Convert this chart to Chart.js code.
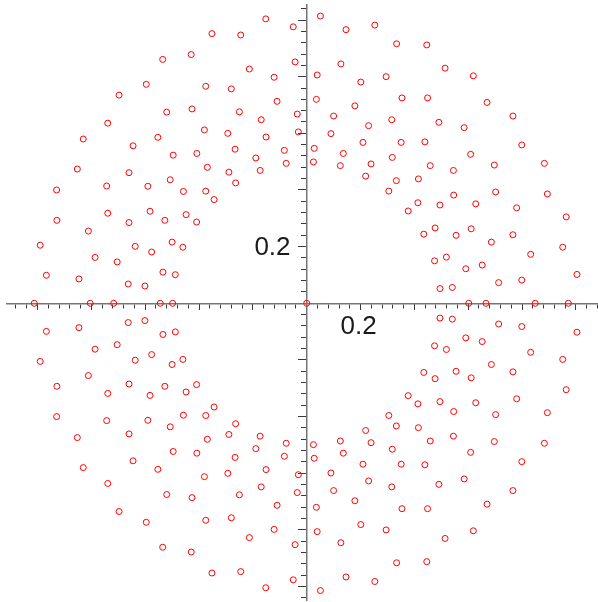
<!DOCTYPE html>
<html>
<head>
<meta charset="utf-8">
<script src="https://cdn.jsdelivr.net/npm/chart.js@4.4.1/dist/chart.umd.min.js"></script>
<style>
  html, body { margin: 0; padding: 0; background: #fff; }
  #wrap { width: 598px; height: 602px; }
</style>
</head>
<body>
<div id="wrap"><canvas id="plot"></canvas></div>
<script>
// points, [x, y]
const leftUpper = [
  [-0.535, 0.861], [-0.429, 0.878], [-0.596, 0.773], [-0.697, 0.735], [-0.520, 0.675],
  [-0.426, 0.686], [-0.739, 0.636], [-0.830, 0.580], [-0.645, 0.556], [-0.553, 0.586],
  [-0.496, 0.523], [-0.408, 0.529], [-0.852, 0.474], [-0.660, 0.461], [-0.507, 0.436],
  [-0.743, 0.414], [-0.590, 0.413], [-0.929, 0.400], [-0.458, 0.395], [-0.928, 0.293],
  [-0.739, 0.318], [-0.582, 0.325], [-0.660, 0.285], [-0.527, 0.293], [-0.448, 0.313],
  [-0.409, 0.287], [-0.811, 0.255], [-0.990, 0.205], [-0.637, 0.201], [-0.576, 0.181],
  [-0.500, 0.216], [-0.460, 0.198], [-0.786, 0.162], [-0.704, 0.146], [-0.967, 0.099],
  [-0.846, 0.086], [-0.663, 0.068], [-0.601, 0.061], [-0.534, 0.110], [-0.488, 0.101]
]
const leftLower = [
  [-0.535, -0.861], [-0.429, -0.878], [-0.596, -0.773], [-0.697, -0.735], [-0.520, -0.675],
  [-0.426, -0.686], [-0.739, -0.636], [-0.830, -0.580], [-0.645, -0.556], [-0.553, -0.586],
  [-0.496, -0.523], [-0.408, -0.529], [-0.852, -0.474], [-0.660, -0.461], [-0.507, -0.436],
  [-0.743, -0.414], [-0.590, -0.413], [-0.929, -0.400], [-0.458, -0.395], [-0.928, -0.293],
  [-0.739, -0.318], [-0.582, -0.325], [-0.660, -0.285], [-0.527, -0.293], [-0.448, -0.313],
  [-0.409, -0.287], [-0.811, -0.255], [-0.990, -0.205], [-0.637, -0.201], [-0.576, -0.181],
  [-0.500, -0.216], [-0.460, -0.198], [-0.786, -0.162], [-0.704, -0.146], [-0.967, -0.099],
  [-0.846, -0.086], [-0.663, -0.068], [-0.601, -0.061], [-0.534, -0.110], [-0.488, -0.101]
]
const midUpper = [
  [-0.152, 1.004], [-0.050, 0.976], [0.051, 1.014], [-0.352, 0.952], [-0.245, 0.947],
  [0.146, 0.966], [0.253, 0.982], [0.334, 0.916], [-0.043, 0.852], [-0.213, 0.827],
  [0.127, 0.845], [-0.121, 0.798], [0.039, 0.806], [-0.375, 0.766], [-0.280, 0.757],
  [0.201, 0.781], [0.295, 0.800], [-0.110, 0.713], [0.036, 0.720], [0.179, 0.697],
  [-0.250, 0.676], [-0.169, 0.648], [-0.035, 0.668], [0.100, 0.661], [0.316, 0.648],
  [0.230, 0.627], [-0.380, 0.612], [-0.293, 0.600], [-0.151, 0.587], [-0.031, 0.605],
  [0.090, 0.599], [0.209, 0.568], [-0.266, 0.544], [-0.083, 0.540], [0.028, 0.547],
  [0.136, 0.529], [-0.189, 0.513], [0.025, 0.499], [0.125, 0.486], [0.239, 0.492],
  [0.318, 0.515], [-0.369, 0.480], [-0.289, 0.463], [-0.173, 0.469], [-0.076, 0.494],
  [0.219, 0.449], [0.333, 0.433], [-0.264, 0.425], [-0.375, 0.396], [0.305, 0.396],
  [-0.344, 0.366]
]
const midLower = [
  [-0.152, -1.004], [-0.050, -0.976], [0.051, -1.014], [-0.352, -0.952], [-0.245, -0.947],
  [0.146, -0.966], [0.253, -0.982], [0.334, -0.916], [-0.043, -0.852], [-0.213, -0.827],
  [0.127, -0.845], [-0.121, -0.798], [0.039, -0.806], [-0.375, -0.766], [-0.280, -0.757],
  [0.201, -0.781], [0.295, -0.800], [-0.110, -0.713], [0.036, -0.720], [0.179, -0.697],
  [-0.250, -0.676], [-0.169, -0.648], [-0.035, -0.668], [0.100, -0.661], [0.316, -0.648],
  [0.230, -0.627], [-0.380, -0.612], [-0.293, -0.600], [-0.151, -0.587], [-0.031, -0.605],
  [0.090, -0.599], [0.209, -0.568], [-0.266, -0.544], [-0.083, -0.540], [0.028, -0.547],
  [0.136, -0.529], [-0.189, -0.513], [0.025, -0.499], [0.125, -0.486], [0.239, -0.492],
  [0.318, -0.515], [-0.369, -0.480], [-0.289, -0.463], [-0.173, -0.469], [-0.076, -0.494],
  [0.219, -0.449], [0.333, -0.433], [-0.264, -0.425], [-0.375, -0.396], [0.305, -0.396],
  [-0.344, -0.366]
]
const rightUpper = [
  [0.446, 0.912], [0.514, 0.830], [0.619, 0.803], [0.354, 0.725], [0.449, 0.725],
  [0.670, 0.709], [0.766, 0.661], [0.491, 0.639], [0.585, 0.620], [0.351, 0.568],
  [0.439, 0.570], [0.799, 0.559], [0.609, 0.526], [0.459, 0.486], [0.545, 0.469],
  [0.697, 0.488], [0.883, 0.494], [0.415, 0.439], [0.546, 0.382], [0.702, 0.393],
  [0.894, 0.386], [0.377, 0.326], [0.413, 0.355], [0.495, 0.347], [0.628, 0.351],
  [0.780, 0.337], [0.964, 0.305], [0.477, 0.266], [0.435, 0.244], [0.555, 0.240],
  [0.611, 0.263], [0.766, 0.242], [0.686, 0.216], [0.951, 0.198], [0.832, 0.173],
  [0.475, 0.150], [0.519, 0.163], [0.591, 0.122], [0.652, 0.135], [1.004, 0.102],
  [0.713, 0.073], [0.799, 0.082], [0.495, 0.052], [0.541, 0.056]
]
const rightLower = [
  [0.446, -0.912], [0.514, -0.830], [0.619, -0.803], [0.354, -0.725], [0.449, -0.725],
  [0.670, -0.709], [0.766, -0.661], [0.491, -0.639], [0.585, -0.620], [0.351, -0.568],
  [0.439, -0.570], [0.799, -0.559], [0.609, -0.526], [0.459, -0.486], [0.545, -0.469],
  [0.697, -0.488], [0.883, -0.494], [0.415, -0.439], [0.546, -0.382], [0.702, -0.393],
  [0.894, -0.386], [0.377, -0.326], [0.413, -0.355], [0.495, -0.347], [0.628, -0.351],
  [0.780, -0.337], [0.964, -0.305], [0.477, -0.266], [0.435, -0.244], [0.555, -0.240],
  [0.611, -0.263], [0.766, -0.242], [0.686, -0.216], [0.951, -0.198], [0.832, -0.173],
  [0.475, -0.150], [0.519, -0.163], [0.591, -0.122], [0.652, -0.135], [1.004, -0.102],
  [0.713, -0.073], [0.799, -0.082], [0.495, -0.052], [0.541, -0.056]
]
const onAxis = [
  [-1.012, 0], [-0.804, 0], [-0.717, 0], [-0.544, 0], [-0.498, 0],
  [0, 0], [0.602, 0], [0.666, 0], [0.849, 0], [0.972, 0]
]

// axes
const xRange = [-1.1133, 1.0821]
const yRange = [-1.0473, 1.0530]
const majorTicks = [-1, -0.8, -0.6, -0.4, -0.2, 0.2, 0.4, 0.6, 0.8, 1]
const labelledTicks = [0.2]
const tickLabels = ['0.2']
const minorStep = 0.04

const allPoints = [].concat(leftUpper, leftLower, midUpper, midLower, rightUpper, rightLower, onAxis)
  .map(([x, y]) => ({ x, y }))

const minorTicks = (lo, hi) => {
  const out = []
  for (let k = Math.ceil(lo / minorStep); k <= Math.floor(hi / minorStep); k++) {
    if (k !== 0) out.push({ value: k * minorStep })
  }
  return out
}

const labelFor = (value) => {
  const i = labelledTicks.findIndex((t) => Math.abs(t - value) < 1e-9)
  return i >= 0 ? tickLabels[i] : ''
}

const axisColor = '#767676'
const tickColor = '#3a3a3a'
const labelFont = { family: 'Liberation Sans, Arial, sans-serif', size: 26 }

// axes sit on the other axis's zero, so they must not take any layout room
const noRoom = (flat) => (s) => {
  if (flat) s.height = 0
  else s.width = 0
  s.paddingLeft = s.paddingRight = s.paddingTop = s.paddingBottom = 0
}

const minorAxis = (range, pos, flat) => ({
  type: 'linear',
  min: range[0],
  max: range[1],
  position: pos,
  afterBuildTicks: (s) => { s.ticks = minorTicks(range[0], range[1]) },
  afterFit: noRoom(flat),
  ticks: { display: false },
  grid: { drawOnChartArea: false, tickLength: flat ? 4 : 5, tickColor: tickColor, tickWidth: 1 },
  border: { color: axisColor, width: 1.5 },
})

const majorAxis = (axis, range, pos, flat) => ({
  type: 'linear',
  axis: axis,
  min: range[0],
  max: range[1],
  position: pos,
  afterBuildTicks: (s) => { s.ticks = majorTicks.map((v) => ({ value: v })) },
  afterFit: noRoom(flat),
  ticks: {
    display: flat,
    autoSkip: false,
    maxRotation: 0,
    padding: 1,
    labelOffset: -2,
    color: '#1a1a1a',
    font: labelFont,
    callback: (v) => labelFor(v),
  },
  grid: { drawOnChartArea: false, tickLength: flat ? 7 : 9, tickColor: tickColor, tickWidth: 1 },
  border: { display: false },
})

// y labels are right-aligned on their axis line, so they get their own axis a little left of x = 0
const yLabelAxis = {
  type: 'linear',
  axis: 'y',
  min: yRange[0],
  max: yRange[1],
  position: { x: -0.06 },
  afterBuildTicks: (s) => { s.ticks = majorTicks.map((v) => ({ value: v })) },
  afterFit: noRoom(false),
  ticks: {
    autoSkip: false,
    labelOffset: 1,
    color: '#1a1a1a',
    font: labelFont,
    callback: (v) => labelFor(v),
  },
  grid: { display: false, drawTicks: false },
  border: { display: false },
}

new Chart(document.getElementById('plot'), {
  type: 'scatter',
  data: {
    datasets: [{
      data: allPoints,
      pointStyle: 'circle',
      pointRadius: 3,
      pointBorderWidth: 1,
      pointBorderColor: '#ff0000',
      pointBackgroundColor: 'rgba(0,0,0,0)',
    }],
  },
  options: {
    responsive: true,
    maintainAspectRatio: false,
    animation: false,
    layout: { autoPadding: false, padding: { left: 7, top: 5, right: 0, bottom: 2 } },
    plugins: { legend: { display: false }, tooltip: { enabled: false } },
    scales: {
      x: minorAxis(xRange, { y: 0 }, true),
      y: minorAxis(yRange, { x: 0 }, false),
      xMajor: majorAxis('x', xRange, { y: 0 }, true),
      yMajor: majorAxis('y', yRange, { x: 0 }, false),
      yLabels: yLabelAxis,
    },
  },
})
</script>
</body>
</html>
